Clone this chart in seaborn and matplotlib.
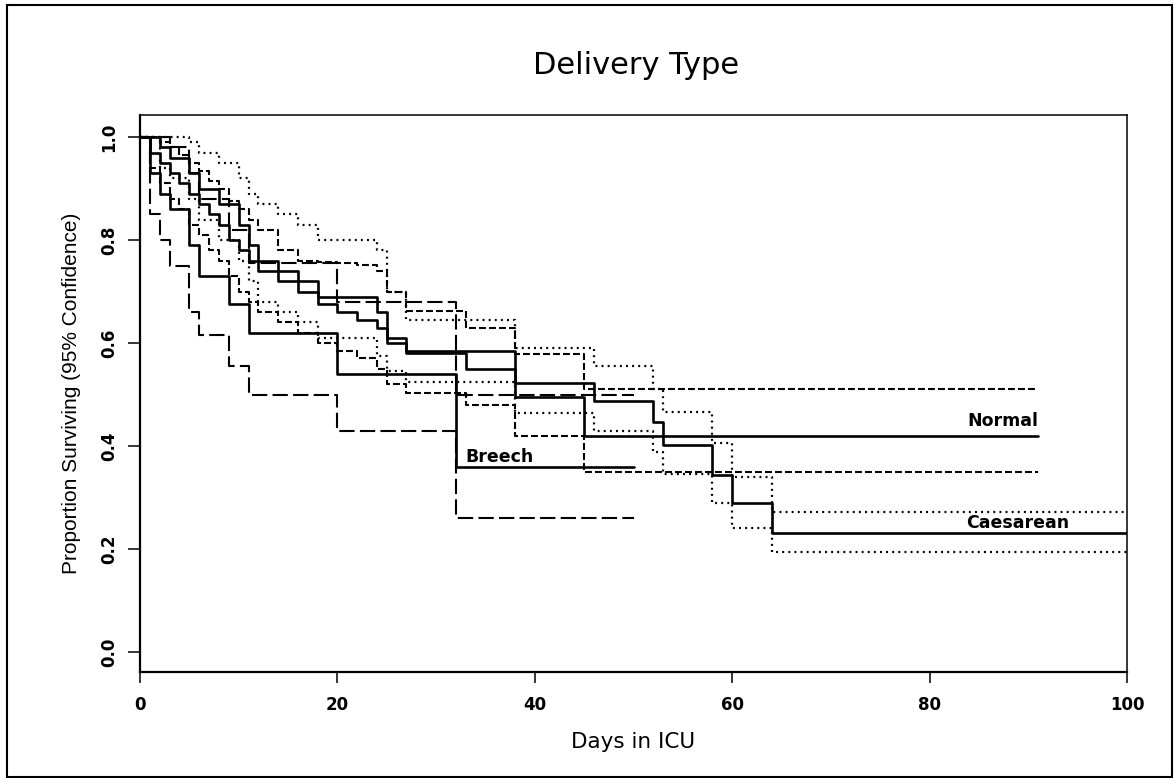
import matplotlib
matplotlib.use("Agg")
import matplotlib.pyplot as plt
from matplotlib.patches import Rectangle
import pandas as pd
import seaborn as sns

# Kaplan-Meier survival by delivery type: step times (days) with the
# estimate and 95% confidence bounds; the last entry marks end of follow-up.
normal_days = [0, 1, 2, 3, 4, 5, 6, 7, 8, 9, 10, 11, 12, 14, 16, 18, 20, 22, 24, 25, 27, 33, 38, 45, 91]
normal_est = [1.0, 0.97, 0.95, 0.93, 0.91, 0.89, 0.87, 0.85, 0.83, 0.80, 0.78, 0.76, 0.74, 0.72, 0.70,
              0.675, 0.66, 0.645, 0.63, 0.60, 0.58, 0.55, 0.495, 0.42, 0.42]
normal_upper = [1.0, 1.0, 0.99, 0.98, 0.965, 0.95, 0.935, 0.915, 0.90, 0.875, 0.86, 0.84, 0.82, 0.78, 0.76,
                0.757, 0.755, 0.752, 0.74, 0.70, 0.662, 0.63, 0.578, 0.51, 0.51]
normal_lower = [1.0, 0.94, 0.91, 0.88, 0.86, 0.83, 0.81, 0.78, 0.76, 0.73, 0.70, 0.68, 0.66, 0.64, 0.62,
                0.60, 0.585, 0.57, 0.55, 0.52, 0.503, 0.48, 0.42, 0.35, 0.35]

caes_days = [0, 2, 3, 5, 6, 8, 10, 11, 12, 14, 16, 18, 24, 25, 27, 38, 46, 52, 53, 58, 60, 64, 100]
caes_est = [1.0, 0.98, 0.96, 0.93, 0.90, 0.87, 0.83, 0.79, 0.76, 0.74, 0.72, 0.69, 0.66, 0.61, 0.585,
            0.522, 0.487, 0.447, 0.402, 0.344, 0.289, 0.231, 0.231]
caes_upper = [1.0, 1.0, 1.0, 0.99, 0.97, 0.95, 0.92, 0.89, 0.87, 0.85, 0.83, 0.80, 0.78, 0.70, 0.645,
              0.59, 0.555, 0.51, 0.466, 0.406, 0.34, 0.272, 0.272]
caes_lower = [1.0, 0.94, 0.92, 0.88, 0.84, 0.80, 0.76, 0.72, 0.68, 0.66, 0.64, 0.61, 0.575, 0.545, 0.525,
              0.464, 0.43, 0.388, 0.345, 0.29, 0.24, 0.195, 0.195]

breech_days = [0, 1, 2, 3, 5, 6, 9, 11, 20, 32, 50]
breech_est = [1.0, 0.93, 0.89, 0.86, 0.79, 0.73, 0.675, 0.62, 0.54, 0.36, 0.36]
breech_upper = [1.0, 1.0, 1.0, 0.98, 0.93, 0.88, 0.82, 0.755, 0.68, 0.50, 0.50]
breech_lower = [1.0, 0.85, 0.80, 0.75, 0.66, 0.615, 0.555, 0.50, 0.43, 0.26, 0.26]

x_ticks = [0, 20, 40, 60, 80, 100]
y_ticks = [0.0, 0.2, 0.4, 0.6, 0.8, 1.0]

sns.set_style("ticks")
plt.rcParams["font.family"] = ["DejaVu Sans"]
plt.rcParams["lines.scale_dashes"] = False
for key in ["text.color", "axes.labelcolor", "xtick.color", "ytick.color",
            "xtick.labelcolor", "ytick.labelcolor", "axes.edgecolor"]:
    plt.rcParams[key] = "black"

W, H = 1175, 778
fig = plt.figure(figsize=(W / 100, H / 100), dpi=100)
fig.patch.set_facecolor("white")
ax = fig.add_axes([140 / W, 1 - 672 / H, 987 / W, 557 / H])
ax.set_facecolor("white")

short_dash = (0, (5.0, 2.2))
dotted = (0, (1.4, 3.0))
long_dash = (0, (11.0, 3.8))

curves = [
    (normal_days, normal_upper, short_dash, 1.5),
    (normal_days, normal_lower, short_dash, 1.5),
    (caes_days, caes_upper, dotted, 1.6),
    (caes_days, caes_lower, dotted, 1.6),
    (breech_days, breech_upper, long_dash, 1.5),
    (breech_days, breech_lower, long_dash, 1.5),
    (normal_days, normal_est, "-", 1.9),
    (caes_days, caes_est, "-", 1.9),
    (breech_days, breech_est, "-", 1.9),
]
for days, vals, style, lw in curves:
    df = pd.DataFrame({"day": days, "surv": vals})
    sns.lineplot(data=df, x="day", y="surv", ax=ax, color="black", lw=lw,
                 linestyle=style, drawstyle="steps-post", estimator=None,
                 sort=False, legend=False)

ax.set_xlim(0, 100)
ax.set_ylim(-0.039, 1.043)
ax.set_xticks(x_ticks)
ax.set_xticklabels([str(t) for t in x_ticks])
ax.set_yticks(y_ticks)
ax.set_yticklabels([f"{t:.1f}" for t in y_ticks])
for lab in ax.get_xticklabels() + ax.get_yticklabels():
    lab.set_fontweight("bold")
    lab.set_fontsize(12)
    lab.set_color("black")
ax.tick_params(axis="y", direction="out", length=8.6, width=1.1, pad=7,
               labelrotation=90, color="black")
for lab in ax.get_yticklabels():
    lab.set_va("center")
ax.tick_params(axis="x", direction="out", length=8, width=1.1, pad=9, color="black")

for side in ["left", "bottom"]:
    ax.spines[side].set_linewidth(1.6)
    ax.spines[side].set_color("black")
for side in ["top", "right"]:
    ax.spines[side].set_visible(True)
    ax.spines[side].set_linewidth(1.1)
    ax.spines[side].set_color("black")

ax.set_xlabel("Days in ICU", fontsize=15.5, va="center", color="black")
ax.xaxis.set_label_coords(0.5, -0.1257)
ax.set_ylabel("Proportion Surviving (95% Confidence)", fontsize=15, color="black",
              family=["Liberation Sans", "DejaVu Sans"], va="center", ha="center")
ax.yaxis.set_label_coords(-0.069, 0.5)

fig.text(636 / W, 1 - 65 / H, "Delivery Type", fontsize=22, ha="center",
         va="center", color="black")

label_kw = dict(fontsize=12.5, fontweight="bold", color="black")
ax.text(91, 0.449, "Normal", ha="right", va="center", **label_kw)
ax.text(88.9, 0.25, "Caesarean", ha="center", va="center", **label_kw)
ax.text(33.0, 0.379, "Breech", ha="left", va="center", **label_kw)

fig.add_artist(Rectangle((7 / W, 1 / H), (1172 - 7) / W, (777 - 5) / H,
                         transform=fig.transFigure, fill=False,
                         edgecolor="black", lw=1.5))

fig.savefig("out.png", dpi=100, facecolor="white")
